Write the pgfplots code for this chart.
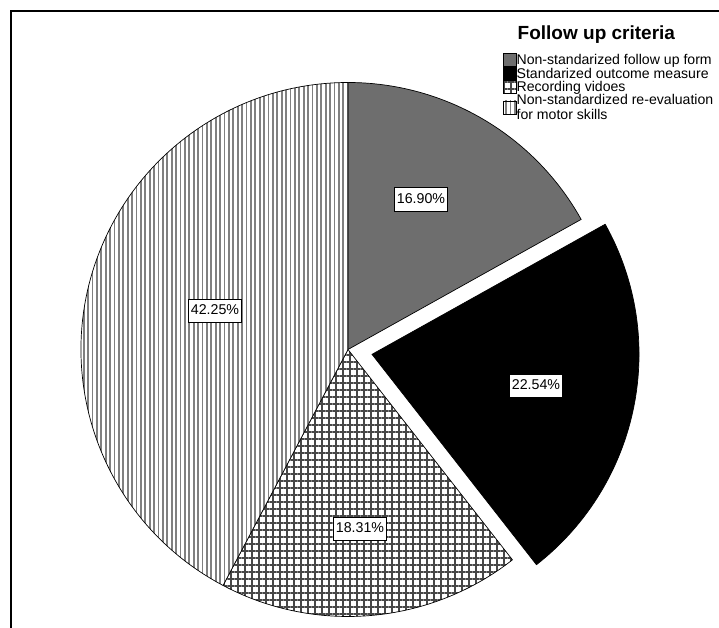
\documentclass[border=0pt]{standalone}
\usepackage{pgfplots}
\pgfplotsset{compat=1.18}
\usepackage{pgfplotstable}
\usetikzlibrary{patterns.meta}
\usepackage{fontspec}
\setmainfont{Liberation Sans}

% value = percentage, explode = offset of the slice, lx/ly = label position
\pgfplotstableread{
idx value explode lx ly
0 16.90 0 421 428.5
1 22.54 24.5 536 242
2 18.31 0 360 99
3 42.25 0 215 317
}\piedata

\newcommand\ls{\rule[-3.2pt]{0pt}{14.5pt}}

\tikzset{
  slice0/.style={fill=black!57},
  slice1/.style={fill=black},
  slice2/.style={preaction={fill=white}, pattern={Hatch[distance=7pt, angle=0, line width=1.1pt]}, pattern color=black!72},
  slice3/.style={preaction={fill=white}, pattern={Lines[distance=4.4pt, angle=90, line width=1.8pt]}, pattern color=black!50},
  slicestyle/.code={\pgfkeysalso{/tikz/slice#1}},
  lab/.style={draw=black, fill=white, line width=0.8pt, inner xsep=2.4pt, inner ysep=5.6pt,
    text height=10pt, text depth=2pt, font=\fontsize{14.2}{16}\selectfont},
}

\begin{document}
\begin{tikzpicture}
\begin{axis}[
  x=1pt, y=1pt, xmin=0, xmax=719, ymin=0, ymax=628,
  hide axis, clip=false,
  legend style={at={(axis cs:503,575.2)}, anchor=north west, draw=none, fill=none,
    inner sep=0pt, outer sep=0pt, row sep=0pt,
    font=\fontsize{14.1}{15}\selectfont,
    nodes={inner sep=0pt, align=left},
    /tikz/every even column/.append style={column sep=3.8pt}},
  legend cell align=left,
  legend image code/.code={\draw[#1, draw=black, line width=0.6pt] (0pt,-6.5pt) rectangle (13pt,6.5pt);},
]
\addlegendimage{slice0}
\addlegendentry{\ls Non-standarized follow up form}
\addlegendimage{slice1}
\addlegendentry{\ls Standarized outcome measure}
\addlegendimage{slice2}
\addlegendentry{\ls Recording vidoes}
\addlegendimage{slice3}
\addlegendentry{\ls Non-standardized re-evaluation\\\rule[-3pt]{0pt}{12pt}for motor skills}

\pgfplotsextra{
  \xdef\cum{90}
  \foreach \i in {0,1,2,3}{
    \pgfplotstablegetelem{\i}{value}\of\piedata \edef\v{\pgfplotsretval}
    \pgfplotstablegetelem{\i}{explode}\of\piedata \edef\ex{\pgfplotsretval}
    \pgfmathsetmacro\s{\cum}
    \pgfmathsetmacro\e{\cum-3.6*\v}
    \pgfmathsetmacro\m{(\s+\e)/2}
    \xdef\cum{\e}
    \filldraw[slicestyle/.expanded=\i, draw=black, line width=0.7pt, shift={(\m:\ex pt)}]
      (axis cs:348,278.5) -- ++(\s:267pt) arc[start angle=\s, end angle=\e, radius=267pt] -- cycle;
  }
  \foreach \i in {0,1,2,3}{
    \pgfplotstablegetelem{\i}{value}\of\piedata \edef\v{\pgfplotsretval}
    \pgfplotstablegetelem{\i}{lx}\of\piedata \edef\lx{\pgfplotsretval}
    \pgfplotstablegetelem{\i}{ly}\of\piedata \edef\ly{\pgfplotsretval}
    \node[lab] at (axis cs:\lx,\ly) {\pgfmathprintnumber[fixed,fixed zerofill,precision=2,assume math mode=true]{\v}\%};
  }
}

\draw[line width=1.7pt] (axis cs:11,0) -- (axis cs:11,617) -- (axis cs:719,617);
\node[anchor=base west, font=\fontsize{19}{21}\selectfont\bfseries, inner sep=0pt] at (axis cs:517.5,588.4) {Follow up criteria};
\end{axis}
\pgfresetboundingbox
\path[use as bounding box] (current axis.south west) rectangle (current axis.north east);
\end{tikzpicture}
\end{document}
